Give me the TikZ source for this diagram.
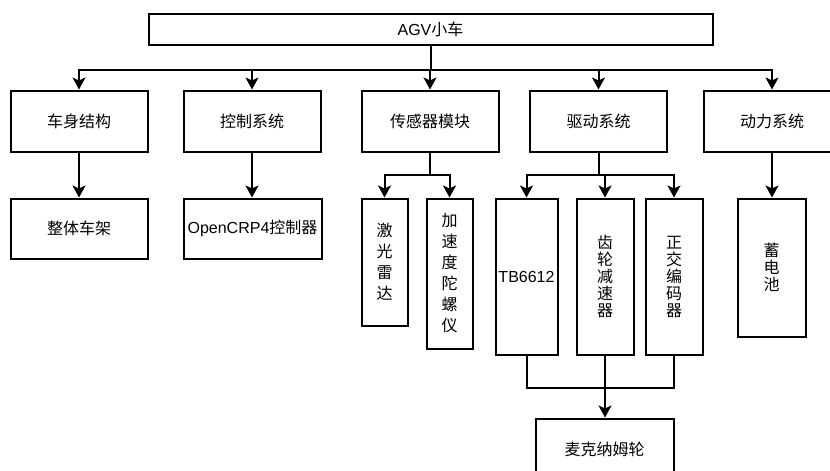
\documentclass[tikz,border=0pt]{standalone}
\usepackage{fontspec}
\setmainfont{Liberation Sans}
\newfontfamily\cjk{Noto Sans CJK SC}
\usepackage{tikz}
\usetikzlibrary{positioning, arrows.meta}
\newcommand{\zh}[1]{{\cjk #1}}

\begin{document}
\begin{tikzpicture}[x=1pt, y=-1pt,
    box/.style={draw, line width=2pt, rectangle, inner sep=0pt, align=center,
        font=\fontsize{16}{17}\selectfont},
    tall/.style={box, font=\fontsize{16}{21}\selectfont},
    arr/.style={line width=2pt, -{Stealth[length=12pt, width=13pt, inset=3pt]}},
    link/.style={line width=2pt}]
    \useasboundingbox (0,0) rectangle (830,471);

    % Root
    \node[box, minimum width=564pt, minimum height=31pt] (agv) at (430.5,29) {AGV\zh{小车}};

    % Subsystems
    \node[box, minimum width=137pt, minimum height=61pt] (body)  at (79,121)  {\zh{车身结构}};
    \node[box, minimum width=137pt, minimum height=61pt] (ctrl)  at (252,121) {\zh{控制系统}};
    \node[box, minimum width=137pt, minimum height=61pt] (sens)  at (430,121) {\zh{传感器模块}};
    \node[box, minimum width=137pt, minimum height=61pt] (drive) at (598.5,121) {\zh{驱动系统}};
    \node[box, minimum width=137pt, minimum height=61pt] (power) at (772,121) {\zh{动力系统}};

    % Components
    \node[box, minimum width=137pt, minimum height=60pt] (frame) at (79,228.5)  {\zh{整体车架}};
    \node[box, minimum width=138pt, minimum height=60pt] (crp)   at (252.5,228.5) {OpenCRP4\zh{控制器}};
    \node[tall, minimum width=46pt, minimum height=127pt] (lidar) at (384.5,262) {\zh{激}\\\zh{光}\\\zh{雷}\\\zh{达}};
    \node[tall, minimum width=46pt, minimum height=150pt] (imu)   at (449.5,273.5) {\zh{加}\\\zh{速}\\\zh{度}\\\zh{陀}\\\zh{螺}\\\zh{仪}};
    \node[box, minimum width=62pt, minimum height=156pt] (tb)    at (526.5,276.5) {TB6612};
    \node[box, minimum width=57pt, minimum height=156pt] (gear)  at (605,276.5) {\zh{齿}\\\zh{轮}\\\zh{减}\\\zh{速}\\\zh{器}};
    \node[box, minimum width=57pt, minimum height=156pt] (enc)   at (674,276.5) {\zh{正}\\\zh{交}\\\zh{编}\\\zh{码}\\\zh{器}};
    \node[box, minimum width=68pt, minimum height=138pt] (batt)  at (771.5,267.5) {\zh{蓄}\\\zh{电}\\\zh{池}};

    % Wheels
    \node[box, minimum width=138pt, minimum height=61pt] (wheel) at (604.5,449) {\zh{麦克纳姆轮}};

    % Root to subsystems
    \foreach \n in {body, ctrl, sens, drive, power}
        \draw[arr] (agv.south) -- ++(0,24.5) -| (\n.north);

    % Subsystems to components
    \draw[arr] (body) -- (frame);
    \draw[arr] (ctrl) -- (ctrl |- crp.north);
    \foreach \n in {lidar, imu}
        \draw[arr] (sens.south) -- ++(0,22.5) -| (\n.north);
    \foreach \n in {tb, gear, enc}
        \draw[arr] (drive.south) -- ++(0,22.5) -| (\n.north);
    \draw[arr] (power.south) -- (power.south |- batt.north);

    % Drive parts to wheels
    \draw[link] (tb.south) -- ++(0,32) -| (enc.south);
    \draw[arr] (gear.south) -- (gear.south |- wheel.north);
\end{tikzpicture}
\end{document}
